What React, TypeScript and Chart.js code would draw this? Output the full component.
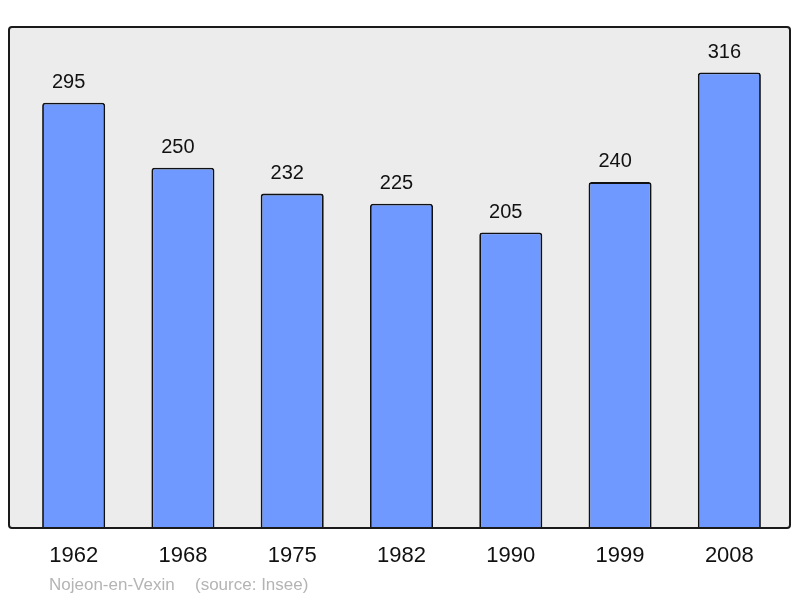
import React, { useEffect, useRef } from "react";
import { Chart, registerables } from "chart.js";

Chart.register(...registerables);

const categories = ["1962", "1968", "1975", "1982", "1990", "1999", "2008"];
const population = [295, 250, 232, 225, 205, 240, 316];
const sourceName = "Nojeon-en-Vexin";
const sourceNote = "(source: Insee)";

const FONT = "'Liberation Sans', Arial, sans-serif";

const framePlugin = {
  id: "frame",
  beforeDraw(chart: any) {
    const { ctx, chartArea } = chart;
    const x0 = chartArea.left - 10;
    const x1 = chartArea.right + 6;
    const y0 = chartArea.top;
    const y1 = chartArea.bottom;
    ctx.save();
    ctx.fillStyle = "#ffffff";
    ctx.fillRect(0, 0, chart.width, chart.height);
    ctx.beginPath();
    (ctx as any).roundRect(x0, y0, x1 - x0, y1 - y0, 3);
    ctx.fillStyle = "#ececec";
    ctx.fill();
    ctx.restore();
  },
  afterDatasetsDraw(chart: any) {
    const { ctx, chartArea } = chart;
    const x0 = chartArea.left - 10;
    const x1 = chartArea.right + 6;
    const y0 = chartArea.top;
    const y1 = chartArea.bottom;
    ctx.save();
    ctx.beginPath();
    (ctx as any).roundRect(x0, y0, x1 - x0, y1 - y0, 3);
    ctx.lineWidth = 2;
    ctx.strokeStyle = "#1a1a1a";
    ctx.stroke();

    // value labels
    const meta = chart.getDatasetMeta(0);
    ctx.font = `20px ${FONT}`;
    ctx.fillStyle = "#111111";
    ctx.textAlign = "center";
    ctx.textBaseline = "alphabetic";
    meta.data.forEach((bar: any, i: number) => {
      ctx.fillText(String(population[i]), bar.x - 5, bar.y - 15);
    });

    // source note
    ctx.font = `17px ${FONT}`;
    ctx.fillStyle = "#b4b4b4";
    ctx.textAlign = "left";
    ctx.fillText(sourceName, 49, 590);
    ctx.fillText(sourceNote, 195, 590);
    ctx.restore();
  },
};

export default function App() {
  const ref = useRef<HTMLCanvasElement>(null);
  useEffect(() => {
    if (!ref.current) return;
    const chart = new Chart(ref.current, {
      type: "bar",
      data: {
        labels: categories,
        datasets: [
          {
            data: population,
            backgroundColor: "#7099ff",
            borderColor: "#111111",
            borderWidth: 1.8,
            borderRadius: 3,
            borderSkipped: "start",
            barPercentage: 0.577,
            categoryPercentage: 1,
          },
        ],
      },
      options: {
        animation: false,
        responsive: false,
        devicePixelRatio: 1,
        layout: { padding: { left: 19, right: 16, top: 27, bottom: 13.6 } },
        plugins: { legend: { display: false }, tooltip: { enabled: false } },
        scales: {
          x: {
            grid: { display: false, drawTicks: false },
            border: { display: false },
            ticks: {
              padding: 15,
              color: "#111111",
              font: { family: FONT, size: 22 },
            },
          },
          y: {
            display: false,
            min: 0,
            max: Math.max(...population) * 1.1,
          },
        },
      },
      plugins: [framePlugin],
    });
    return () => chart.destroy();
  }, []);
  return (
    <div style={{ position: "absolute", left: 0, top: 0, width: 800, height: 598 }}>
      <canvas ref={ref} width={800} height={598} style={{ display: "block" }} />
    </div>
  );
}
